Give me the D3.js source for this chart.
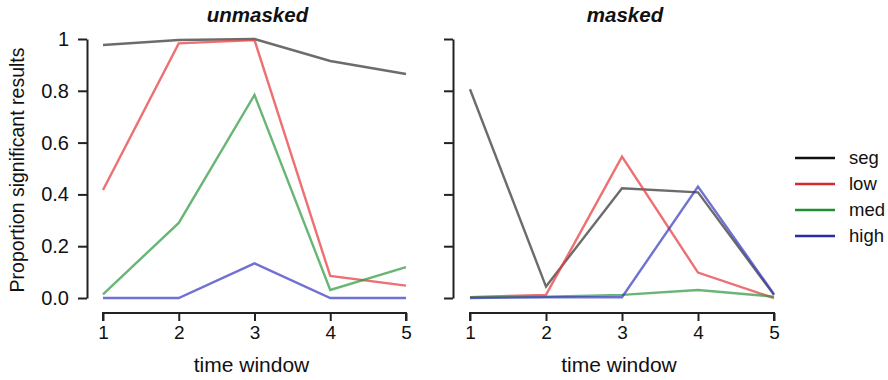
<!DOCTYPE html>
<html>
<head>
<meta charset="utf-8">
<script src="https://cdn.jsdelivr.net/npm/d3@7"></script>
<style>
  html, body { margin: 0; padding: 0; background: #fff; }
  svg { display: block; font-family: "Liberation Sans", Arial, sans-serif; }
</style>
</head>
<body>
<svg id="chart" width="888" height="380"></svg>
<script>
// Time windows on the x axis
const timeWindows = [1, 2, 3, 4, 5];
const seriesNames = ["seg", "low", "med", "high"];
const yTicks = [0, 0.2, 0.4, 0.6, 0.8, 1];
const yTickLabels = ["0.0", "0.2", "0.4", "0.6", "0.8", "1"];

// Proportion of significant results, unmasked condition
const unmaskedSeg  = [0.977, 0.996, 1.000, 0.915, 0.865];
const unmaskedLow  = [0.417, 0.983, 0.996, 0.085, 0.048];
const unmaskedMed  = [0.014, 0.290, 0.784, 0.031, 0.119];
const unmaskedHigh = [0.000, 0.000, 0.134, 0.000, 0.000];

// Proportion of significant results, masked condition
const maskedSeg  = [0.806, 0.044, 0.424, 0.408, 0.012];
const maskedLow  = [0.003, 0.012, 0.546, 0.098, 0.000];
const maskedMed  = [0.003, 0.005, 0.012, 0.031, 0.005];
const maskedHigh = [0.000, 0.003, 0.003, 0.430, 0.015];

const lineColors = { seg: "#333333", low: "#e6393c", med: "#2e9a40", high: "#3a3ac0" };
const legendColors = { seg: "#111111", low: "#d42a2a", med: "#1f8f32", high: "#2a2aa8" };

const panels = [
  { title: "unmasked", x0: 103, x1: 406, axisX: 87, showLabels: true,
    series: { seg: unmaskedSeg, low: unmaskedLow, med: unmaskedMed, high: unmaskedHigh } },
  { title: "masked", x0: 470, x1: 774, axisX: 453, showLabels: false,
    series: { seg: maskedSeg, low: maskedLow, med: maskedMed, high: maskedHigh } }
];

const svg = d3.select("#chart");
const y = d3.scaleLinear().domain([0, 1]).range([298, 39]);
const axisColor = "#222";

panels.forEach(p => {
  const x = d3.scaleLinear().domain([1, 5]).range([p.x0, p.x1]);
  const g = svg.append("g");

  // y axis
  const yAxis = d3.axisLeft(y).tickValues(yTicks).tickSize(9).tickSizeOuter(0)
    .tickFormat((d, i) => p.showLabels ? yTickLabels[i] : "");
  const ya = g.append("g").attr("transform", `translate(${p.axisX},0)`).call(yAxis);
  ya.select(".domain").attr("stroke", axisColor).attr("stroke-width", 2);
  ya.selectAll(".tick line").attr("stroke", axisColor).attr("stroke-width", 2);
  ya.selectAll(".tick text").attr("font-size", 20).attr("fill", "#111").attr("x", -18)
    .attr("font-family", "Liberation Sans, Arial, sans-serif");

  // x axis
  const xAxis = d3.axisBottom(x).tickValues(timeWindows).tickSize(8).tickSizeOuter(0)
    .tickFormat(d3.format("d"));
  const xa = g.append("g").attr("transform", "translate(0,313)").call(xAxis);
  xa.select(".domain").attr("stroke", axisColor).attr("stroke-width", 2)
    .attr("d", `M${p.x0},8V0H${p.x1}V8`);
  xa.selectAll(".tick line").attr("stroke", axisColor).attr("stroke-width", 2);
  xa.selectAll(".tick text").attr("font-size", 19).attr("fill", "#111").attr("y", 13)
    .attr("font-family", "Liberation Sans, Arial, sans-serif");

  // x axis title
  g.append("text").attr("x", (p.x0 + p.x1) / 2 - 3).attr("y", 372)
    .attr("text-anchor", "middle").attr("font-size", 21).attr("fill", "#111")
    .text("time window");

  // panel title
  g.append("text").attr("x", (p.x0 + p.x1) / 2 + 3).attr("y", 22)
    .attr("text-anchor", "middle").attr("font-size", 20.5).attr("font-weight", "bold")
    .attr("font-style", "italic").attr("fill", "#111").text(p.title);

  // series lines
  const line = d3.line().x((d, i) => x(timeWindows[i])).y(d => y(d));
  seriesNames.forEach(name => {
    g.append("path").datum(p.series[name])
      .attr("fill", "none").attr("stroke", lineColors[name])
      .attr("stroke-opacity", 0.72).attr("stroke-width", 2.4)
      .attr("stroke-linejoin", "miter").attr("d", line);
  });
});

// y axis title
svg.append("text")
  .attr("transform", "translate(24,170) rotate(-90)")
  .attr("text-anchor", "middle").attr("font-size", 19.5).attr("fill", "#111")
  .text("Proportion significant results");

// legend
const legend = svg.append("g").attr("transform", "translate(795,158)");
seriesNames.forEach((name, i) => {
  const row = legend.append("g").attr("transform", `translate(0,${i * 26})`);
  row.append("line").attr("x1", 0).attr("x2", 40).attr("y1", 0).attr("y2", 0)
    .attr("stroke", legendColors[name]).attr("stroke-width", 2.4);
  row.append("text").attr("x", 54).attr("y", 6).attr("font-size", 18.5)
    .attr("fill", "#111").text(name);
});
</script>
</body>
</html>
